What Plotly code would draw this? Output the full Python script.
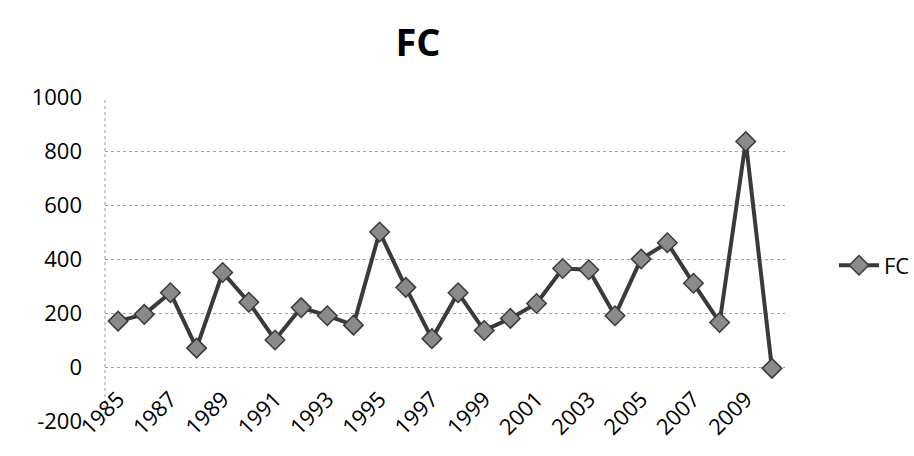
import plotly.graph_objects as go

years = list(range(1985, 2011))
fc_values = [170, 195, 275, 70, 350, 240, 100, 220, 190, 155,
             500, 295, 105, 275, 135, 180, 235, 365, 360, 190,
             400, 460, 310, 165, 835, -5]
tick_years = list(range(1985, 2010, 2))
y_ticks = [-200, 0, 200, 400, 600, 800, 1000]
y_tick_text = ["-200", "0", "200", "400", "600", "800", "1000"]

W, H = 914, 456
L, R, T, B = 105, 785, 97, 421
zero_pos = (B - 367) / (B - T)

fig = go.Figure()
fig.add_trace(go.Scatter(
    x=years, y=fc_values, name="FC", mode="lines+markers",
    line=dict(color="#3a3a3a", width=4),
    marker=dict(symbol="diamond", size=15, color="#8a8a8a",
                line=dict(color="#3a3a3a", width=1.5)),
))

fig.add_shape(type="line", xref="paper", yref="paper", x0=0, x1=0, y0=0, y1=1,
              line=dict(color="#9a9a9a", width=1, dash="dot"), layer="below")

font = dict(family="Open Sans", size=22, color="#000000")
fig.update_layout(
    width=W, height=H,
    margin=dict(l=L, r=W - R, t=T, b=H - B, autoexpand=False),
    paper_bgcolor="white", plot_bgcolor="white",
    font=font,
    title=dict(text="<b>FC</b>", x=418 / W, xanchor="center",
               y=1 - 43 / H, yanchor="middle",
               font=dict(family="Open Sans", size=38, color="#000000")),
    showlegend=True,
    legend=dict(x=(834 - L) / (R - L), xanchor="left", y=0.48, yanchor="middle",
                font=dict(family="Open Sans", size=22, color="#000000"),
                bgcolor="rgba(0,0,0,0)", itemwidth=40),
    xaxis=dict(range=[1984.5, 2010.5], tickmode="array", tickvals=tick_years,
               ticktext=[str(v) for v in tick_years], tickangle=-45,
               showgrid=False, zeroline=False, anchor="free", position=zero_pos,
               showline=False,
               ticks="", automargin=False, tickfont=font, ticklabelstandoff=14),
    yaxis=dict(range=[-200, 1000], tickmode="array", tickvals=y_ticks,
               ticktext=y_tick_text,
               showgrid=True, gridcolor="#a0a0a0", griddash="dot", gridwidth=1,
               zeroline=False, showline=False,
               ticks="", automargin=False, tickfont=font, ticklabelstandoff=22),
)

fig.write_html("out.html")
